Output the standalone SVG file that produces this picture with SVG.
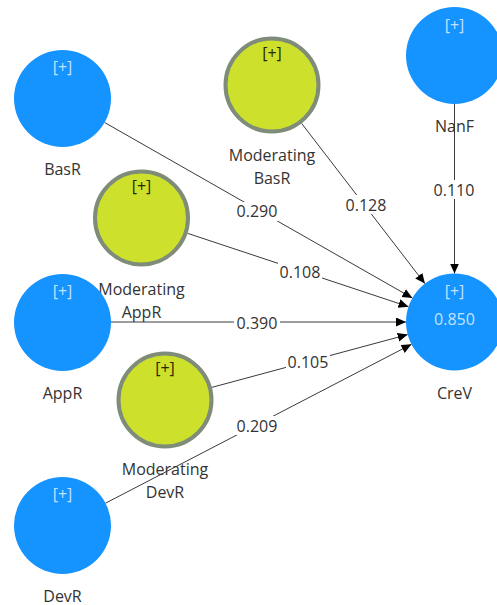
<svg xmlns="http://www.w3.org/2000/svg" width="497" height="605" viewBox="0 0 497 605">
<style>
text{font-family:"Open Sans","Noto Sans","DejaVu Sans",sans-serif;font-size:16px;text-anchor:middle}
.lv{fill:#1593fe}
.mod{fill:#cde12c;stroke:#7e8c79;stroke-width:4}
.pl{fill:#c4e2ff}
.pd{fill:#2b2600}
.lab{fill:#333}
.edge{stroke:#3a3a3a;stroke-width:1;fill:none}
.bg{fill:#fff}
.el{fill:#333}
</style>
<defs>
<marker id="arr" markerUnits="userSpaceOnUse" markerWidth="11" markerHeight="10" refX="10" refY="4.5" orient="auto">
<path d="M0,0 L10,4.5 L0,9 z" fill="#000"/>
</marker>
</defs>
<rect width="497" height="605" fill="#fff"/>
<g id="connectors">
<line class="edge" x1="104.6" y1="122.5" x2="412.4" y2="298" marker-end="url(#arr)"/>
<line class="edge" x1="301.6" y1="123.4" x2="424.9" y2="283.6" marker-end="url(#arr)"/>
<line class="edge" x1="187.5" y1="233.3" x2="408.5" y2="306.7" marker-end="url(#arr)"/>
<line class="edge" x1="111" y1="322" x2="406" y2="322" marker-end="url(#arr)"/>
<line class="edge" x1="211.8" y1="387.4" x2="407.7" y2="334.6" marker-end="url(#arr)"/>
<line class="edge" x1="105.5" y1="503.2" x2="411.5" y2="344.3" marker-end="url(#arr)"/>
<line class="edge" x1="454.5" y1="104" x2="454.5" y2="273.5" marker-end="url(#arr)"/>
<rect class="bg" x="235" y="202" width="44" height="19"/><text class="el" x="257" y="217">0.290</text>
<rect class="bg" x="344" y="195" width="44" height="19"/><text class="el" x="366" y="211">0.128</text>
<rect class="bg" x="432" y="180" width="44" height="19"/><text class="el" x="454" y="196">0.110</text>
<rect class="bg" x="278" y="262" width="44" height="19"/><text class="el" x="300" y="277.5">0.108</text>
<rect class="bg" x="234" y="314" width="46" height="19"/><text class="el" x="257" y="329">0.390</text>
<rect class="bg" x="286" y="352" width="44" height="19"/><text class="el" x="308" y="368">0.105</text>
<rect class="bg" x="235" y="416" width="44" height="19"/><text class="el" x="257" y="431.5">0.209</text>
</g>
<g id="BasR">
<circle class="lv" cx="62.5" cy="98.5" r="48.5"/>
<text class="pl" x="62.5" y="72.5">[+]</text>
<text class="lab" x="62.5" y="175">BasR</text>
</g>
<g id="ModeratingBasR">
<circle class="mod" cx="272" cy="85" r="46.5"/>
<text class="pd" x="272" y="59">[+]</text>
<text class="lab" x="272" y="161">Moderating</text>
<text class="lab" x="272" y="184">BasR</text>
</g>
<g id="ModeratingAppR">
<circle class="mod" cx="141.5" cy="218" r="46.5"/>
<text class="pd" x="141.5" y="192">[+]</text>
<text class="lab" x="141.5" y="295">Moderating</text>
<text class="lab" x="141.5" y="318">AppR</text>
</g>
<g id="AppR">
<circle class="lv" cx="62.5" cy="322.5" r="48.5"/>
<text class="pl" x="62.5" y="297">[+]</text>
<text class="lab" x="62.5" y="398.5">AppR</text>
</g>
<g id="ModeratingDevR">
<circle class="mod" cx="165" cy="400" r="46.5"/>
<text class="pd" x="165" y="374">[+]</text>
<text class="lab" x="165" y="475">Moderating</text>
<text class="lab" x="165" y="498">DevR</text>
</g>
<g id="DevR">
<circle class="lv" cx="62.5" cy="525.5" r="48.5"/>
<text class="pl" x="62.5" y="500">[+]</text>
<text class="lab" x="62.5" y="601.5">DevR</text>
</g>
<g id="NanF">
<circle class="lv" cx="454.5" cy="55.5" r="48.5"/>
<text class="pl" x="454.5" y="31">[+]</text>
<text class="lab" x="454.5" y="131.5">NanF</text>
</g>
<g id="CreV">
<circle class="lv" cx="454.5" cy="322" r="48.5"/>
<text class="pl" x="454.5" y="296.5">[+]</text>
<text class="pl" x="454.5" y="325">0.850</text>
<text class="lab" x="454.5" y="398.5">CreV</text>
</g>
</svg>
